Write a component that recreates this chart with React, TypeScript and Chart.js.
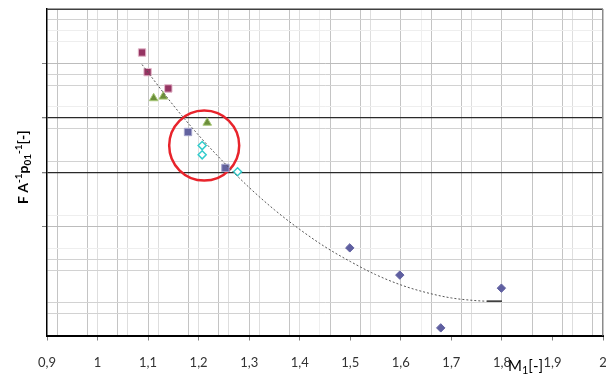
import React, { useEffect, useRef } from "react";
import { Chart, registerables } from "chart.js";

Chart.register(...registerables);

// ---- data ----
const magentaX = [1.088, 1.099, 1.14];
const magentaY = [5.2, 4.84, 4.54];
const greenX = [1.111, 1.13, 1.217];
const greenY = [4.36, 4.39, 3.91];
const blueSqX = [1.179, 1.253];
const blueSqY = [3.74, 3.08];
const cyanX = [1.207, 1.207, 1.277];
const cyanY = [3.49, 3.32, 3.01];
const blueDiaX = [1.499, 1.598, 1.679, 1.799];
const blueDiaY = [1.61, 1.11, 0.14, 0.87];
const trendX = [1.088, 1.15, 1.2, 1.25, 1.3, 1.35, 1.4, 1.45, 1.5, 1.55, 1.6, 1.65, 1.7, 1.75, 1.77];
const trendY = [4.98, 4.23, 3.68, 3.18, 2.72, 2.31, 1.95, 1.63, 1.36, 1.12, 0.93, 0.79, 0.69, 0.64, 0.63];
const segX = [1.77, 1.8];
const segY = [0.63, 0.63];
const circleX = [1.211];
const circleY = [3.49];

// ---- axes ----
const xTickValues = [0.9, 1.0, 1.1, 1.2, 1.3, 1.4, 1.5, 1.6, 1.7, 1.8, 1.9, 2.0];
const xTickLabels = ["0,9", "1", "1,1", "1,2", "1,3", "1,4", "1,5", "1,6", "1,7", "1,8", "1,9", "2"];
const xGridMid = [0.92, 0.98, 1.04, 1.1, 1.18, 1.24, 1.3, 1.38, 1.46, 1.52, 1.6, 1.66, 1.72, 1.8, 1.86, 1.92, 1.98];
const xGridLight = [1.0, 1.06, 1.12, 1.2, 1.26, 1.32, 1.4, 1.54, 1.74, 1.94];
const xGridFaint = [1.44, 1.64];

const yTickMarks = [2, 3, 4, 5];
const yGridBlack = [3, 4];
const yGridMid = [2, 5];
const yGridLight = [0.4, 0.6, 1.2, 1.4, 3.2, 3.8, 4.6, 4.8, 5.8];
const yGridFaint = [1.6, 2.2, 4.2, 5.4, 5.6];

const key = (v: number) => Math.round(v * 100);
const has = (arr: number[], v: number) => arr.some((a) => key(a) === key(v));
const uniq = (arrs: number[][]) => {
  const m = new Map<number, number>();
  arrs.flat().forEach((v) => m.set(key(v), v));
  return Array.from(m.values()).sort((a, b) => a - b);
};
const pts = (xs: number[], ys: number[]) => xs.map((x, i) => ({ x, y: ys[i] }));

const framePlugin = {
  id: "frameAndTitles",
  afterDatasetsDraw(chart: any) {
    const { ctx, chartArea } = chart;
    ctx.save();
    ctx.lineWidth = 1.5;
    ctx.strokeStyle = "#404040";
    ctx.beginPath();
    ctx.moveTo(chartArea.left, chartArea.top + 0.25);
    ctx.lineTo(chartArea.right, chartArea.top + 0.25);
    ctx.stroke();
    ctx.strokeStyle = "#8a8a8a";
    ctx.beginPath();
    ctx.moveTo(chartArea.right - 0.25, chartArea.top);
    ctx.lineTo(chartArea.right - 0.25, chartArea.bottom);
    ctx.stroke();
    ctx.restore();
  },
  afterDraw(chart: any) {
    const { ctx, chartArea } = chart;
    ctx.save();
    ctx.fillStyle = "#000";
    ctx.textBaseline = "alphabetic";
    ctx.textAlign = "left";
    const segs: [string, number][] = [
      ["F A", 0],
      ["-1", 1],
      ["p", 0],
      ["01", -1],
      ["-1", 1],
      ["[-]", 0],
    ];
    const fontFor = (s: number) => (s === 0 ? "bold 14px Lato" : "bold 10px Lato");
    let total = 0;
    segs.forEach(([t, s]) => {
      ctx.font = fontFor(s);
      total += ctx.measureText(t).width;
    });
    const cy = (chartArea.top + chartArea.bottom) / 2 - 5;
    ctx.translate(28, cy);
    ctx.rotate(-Math.PI / 2);
    let x = -total / 2;
    segs.forEach(([t, s]) => {
      ctx.font = fontFor(s);
      const dy = s === 1 ? -6 : s === -1 ? 3 : 0;
      ctx.fillText(t, x, dy);
      x += ctx.measureText(t).width;
    });
    ctx.setTransform(1, 0, 0, 1, 0, 0);
    const xSegs: [string, number][] = [
      ["M", 0],
      ["1", -1],
      ["[-]", 0],
    ];
    let xx = chartArea.right - 95;
    const by = 371;
    xSegs.forEach(([t, s]) => {
      ctx.font = s === 0 ? "15px Lato" : "11px Lato";
      ctx.fillText(t, xx, by + (s === -1 ? 3 : 0));
      xx += ctx.measureText(t).width;
    });
    ctx.restore();
  },
};

export default function App() {
  const ref = useRef<HTMLCanvasElement | null>(null);
  useEffect(() => {
    document.body.style.margin = "0";
    const canvas = ref.current;
    if (!canvas) return;
    const xAll = uniq([xTickValues, xGridMid, xGridLight, xGridFaint]);
    const yAll = uniq([[0, 6], yTickMarks, yGridBlack, yGridMid, yGridLight, yGridFaint]);

    const chart = new Chart(canvas, {
      type: "scatter",
      data: {
        datasets: [
          {
            type: "line",
            data: pts(trendX, trendY),
            borderColor: "#555555",
            borderWidth: 1,
            borderDash: [2, 2],
            pointRadius: 0,
            cubicInterpolationMode: "monotone",
            fill: false,
            order: 0,
          } as any,
          {
            type: "line",
            data: pts(segX, segY),
            borderColor: "#000000",
            borderWidth: 1.2,
            pointRadius: 0,
            fill: false,
            order: 0,
          } as any,
          {
            data: pts(magentaX, magentaY),
            pointStyle: "rect",
            pointRadius: 5.2,
            backgroundColor: "#953462",
            borderColor: "#e3b6c9",
            borderWidth: 1,
            order: 1,
          },
          {
            data: pts(greenX, greenY),
            pointStyle: "triangle",
            pointRadius: 5,
            backgroundColor: "#6b8e3a",
            borderColor: "#a8c878",
            borderWidth: 1,
            order: 1,
          },
          {
            data: pts(blueSqX, blueSqY),
            pointStyle: "rect",
            pointRadius: 5.2,
            backgroundColor: "#62629f",
            borderColor: "#a4a4cc",
            borderWidth: 1,
            order: 1,
          },
          {
            data: pts(cyanX, cyanY),
            pointStyle: "rectRot",
            pointRadius: 4,
            backgroundColor: "#ffffff",
            borderColor: "#33cccc",
            borderWidth: 1.5,
            order: 1,
          },
          {
            data: pts(blueDiaX, blueDiaY),
            pointStyle: "rectRot",
            pointRadius: 4.2,
            backgroundColor: "#5f5fa0",
            borderColor: "#5f5fa0",
            borderWidth: 1,
            order: 1,
          },
          {
            data: pts(circleX, circleY),
            pointStyle: "circle",
            pointRadius: 35,
            backgroundColor: "rgba(0,0,0,0)",
            borderColor: "#e8242c",
            borderWidth: 2.5,
            order: 2,
          },
        ],
      },
      options: {
        responsive: false,
        animation: false,
        devicePixelRatio: 1,
        layout: { autoPadding: false, padding: { left: 0, right: 3, top: 9, bottom: 0 } },
        plugins: { legend: { display: false }, tooltip: { enabled: false } },
        scales: {
          x: {
            type: "linear",
            min: 0.9,
            max: 2.0,
            afterBuildTicks: (scale: any) => {
              scale.ticks = xAll.map((v) => ({ value: v }));
            },
            afterFit: (scale: any) => {
              scale.height = 40.5;
              scale.paddingLeft = 0;
              scale.paddingRight = 0;
            },
            border: { color: "#000000", width: 2 },
            grid: {
              drawTicks: true,
              tickLength: 5,
              color: (c: any) => {
                const v = c.tick ? c.tick.value : 0;
                if (has(xGridMid, v)) return "#c4c4c4";
                if (has(xGridLight, v)) return "#dedede";
                if (has(xGridFaint, v)) return "#efefef";
                return "rgba(0,0,0,0)";
              },
              tickColor: (c: any) => {
                const v = c.tick ? c.tick.value : 0;
                return has(xTickValues, v) ? "#7f7f7f" : "rgba(0,0,0,0)";
              },
              lineWidth: 1,
            },
            ticks: {
              autoSkip: false,
              maxRotation: 0,
              padding: 15,
              color: "#333333",
              font: { family: "Lato", size: 13 },
              callback: (value: any) => {
                const i = xTickValues.findIndex((t) => key(t) === key(Number(value)));
                return i >= 0 ? xTickLabels[i] : "";
              },
            },
          },
          y: {
            type: "linear",
            min: 0,
            max: 6,
            afterBuildTicks: (scale: any) => {
              scale.ticks = yAll.map((v) => ({ value: v }));
            },
            afterFit: (scale: any) => {
              scale.width = 47;
              scale.paddingTop = 0;
              scale.paddingBottom = 0;
            },
            border: { color: "#000000", width: 1.5 },
            grid: {
              drawTicks: true,
              tickLength: 5,
              color: (c: any) => {
                const v = c.tick ? c.tick.value : 0;
                if (has(yGridBlack, v)) return "#2a2a2a";
                if (has(yGridMid, v)) return "#bcbcbc";
                if (has(yGridLight, v)) return "#d2d2d2";
                if (has(yGridFaint, v)) return "#eeeeee";
                return "rgba(0,0,0,0)";
              },
              lineWidth: (c: any) => {
                const v = c.tick ? c.tick.value : 0;
                return has(yGridBlack, v) ? 1.3 : 1;
              },
              tickColor: (c: any) => {
                const v = c.tick ? c.tick.value : 0;
                return has(yTickMarks, v) ? "#7f7f7f" : "rgba(0,0,0,0)";
              },
            },
            ticks: {
              autoSkip: false,
              padding: 0,
              font: { size: 1 },
              callback: () => "",
            },
          },
        },
      },
      plugins: [framePlugin],
    } as any);
    return () => chart.destroy();
  }, []);

  return (
    <div style={{ position: "fixed", left: 0, top: 0, width: 606, height: 376, background: "#fff" }}>
      <canvas ref={ref} width={606} height={376} style={{ display: "block" }} />
    </div>
  );
}
